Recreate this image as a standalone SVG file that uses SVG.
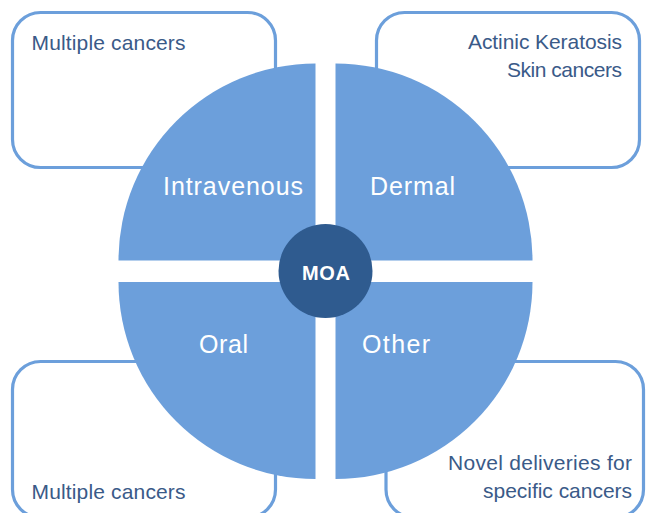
<svg xmlns="http://www.w3.org/2000/svg" width="647" height="513" viewBox="0 0 647 513">
  <style>
    .box { fill: #ffffff; stroke: #6C9FDB; stroke-width: 3.2; }
    .quad { fill: #6C9FDB; }
    .hub { fill: #2F5B8F; }
    .note { font-family: "Liberation Sans", Arial, sans-serif; font-size: 21px; fill: #3A5A88; }
    .route { font-family: "Liberation Sans", Arial, sans-serif; font-size: 25px; fill: #ffffff; text-anchor: middle; }
    .hubtext { font-family: "Liberation Sans", Arial, sans-serif; font-size: 20px; font-weight: bold; fill: #ffffff; text-anchor: middle; }
  </style>
  <rect width="647" height="513" fill="#ffffff"/>

  <g id="box-top-left">
    <rect class="box" x="12.5" y="12.5" width="263" height="155" rx="28"/>
    <text class="note" x="31.5" y="50" textLength="154">Multiple cancers</text>
  </g>
  <g id="box-top-right">
    <rect class="box" x="376.5" y="12.5" width="263" height="155" rx="28"/>
    <text class="note" x="622" y="49" text-anchor="end" textLength="154">Actinic Keratosis</text>
    <text class="note" x="622" y="77" text-anchor="end" textLength="115">Skin cancers</text>
  </g>
  <g id="box-bottom-left">
    <rect class="box" x="12.5" y="361.5" width="263" height="156" rx="28"/>
    <text class="note" x="31.5" y="499" textLength="154">Multiple cancers</text>
  </g>
  <g id="box-bottom-right">
    <rect class="box" x="386" y="361.5" width="257.5" height="156" rx="28"/>
    <text class="note" x="632" y="470" text-anchor="end" textLength="184">Novel deliveries for</text>
    <text class="note" x="632" y="498" text-anchor="end" textLength="149">specific cancers</text>
  </g>

  <g id="quadrant-intravenous">
    <path class="quad" d="M315.5,260.5 H118.5 A197,197 0 0 1 315.5,63.5 Z"/>
    <text class="route" x="233" y="195" textLength="140">Intravenous</text>
  </g>
  <g id="quadrant-dermal">
    <path class="quad" d="M335.5,260.5 V63.5 A197,197 0 0 1 532.5,260.5 Z"/>
    <text class="route" x="412.5" y="195" textLength="85">Dermal</text>
  </g>
  <g id="quadrant-oral">
    <path class="quad" d="M315.5,282 H118.5 A197,197 0 0 0 315.5,479 Z"/>
    <text class="route" x="223.5" y="353" textLength="49">Oral</text>
  </g>
  <g id="quadrant-other">
    <path class="quad" d="M335.5,282 H532.5 A197,197 0 0 1 335.5,479 Z"/>
    <text class="route" x="396" y="353" textLength="68">Other</text>
  </g>

  <g id="hub-moa">
    <circle class="hub" cx="325.5" cy="271" r="47"/>
    <text class="hubtext" x="326" y="280" textLength="48">MOA</text>
  </g>

  <g id="connectors"/>
</svg>
